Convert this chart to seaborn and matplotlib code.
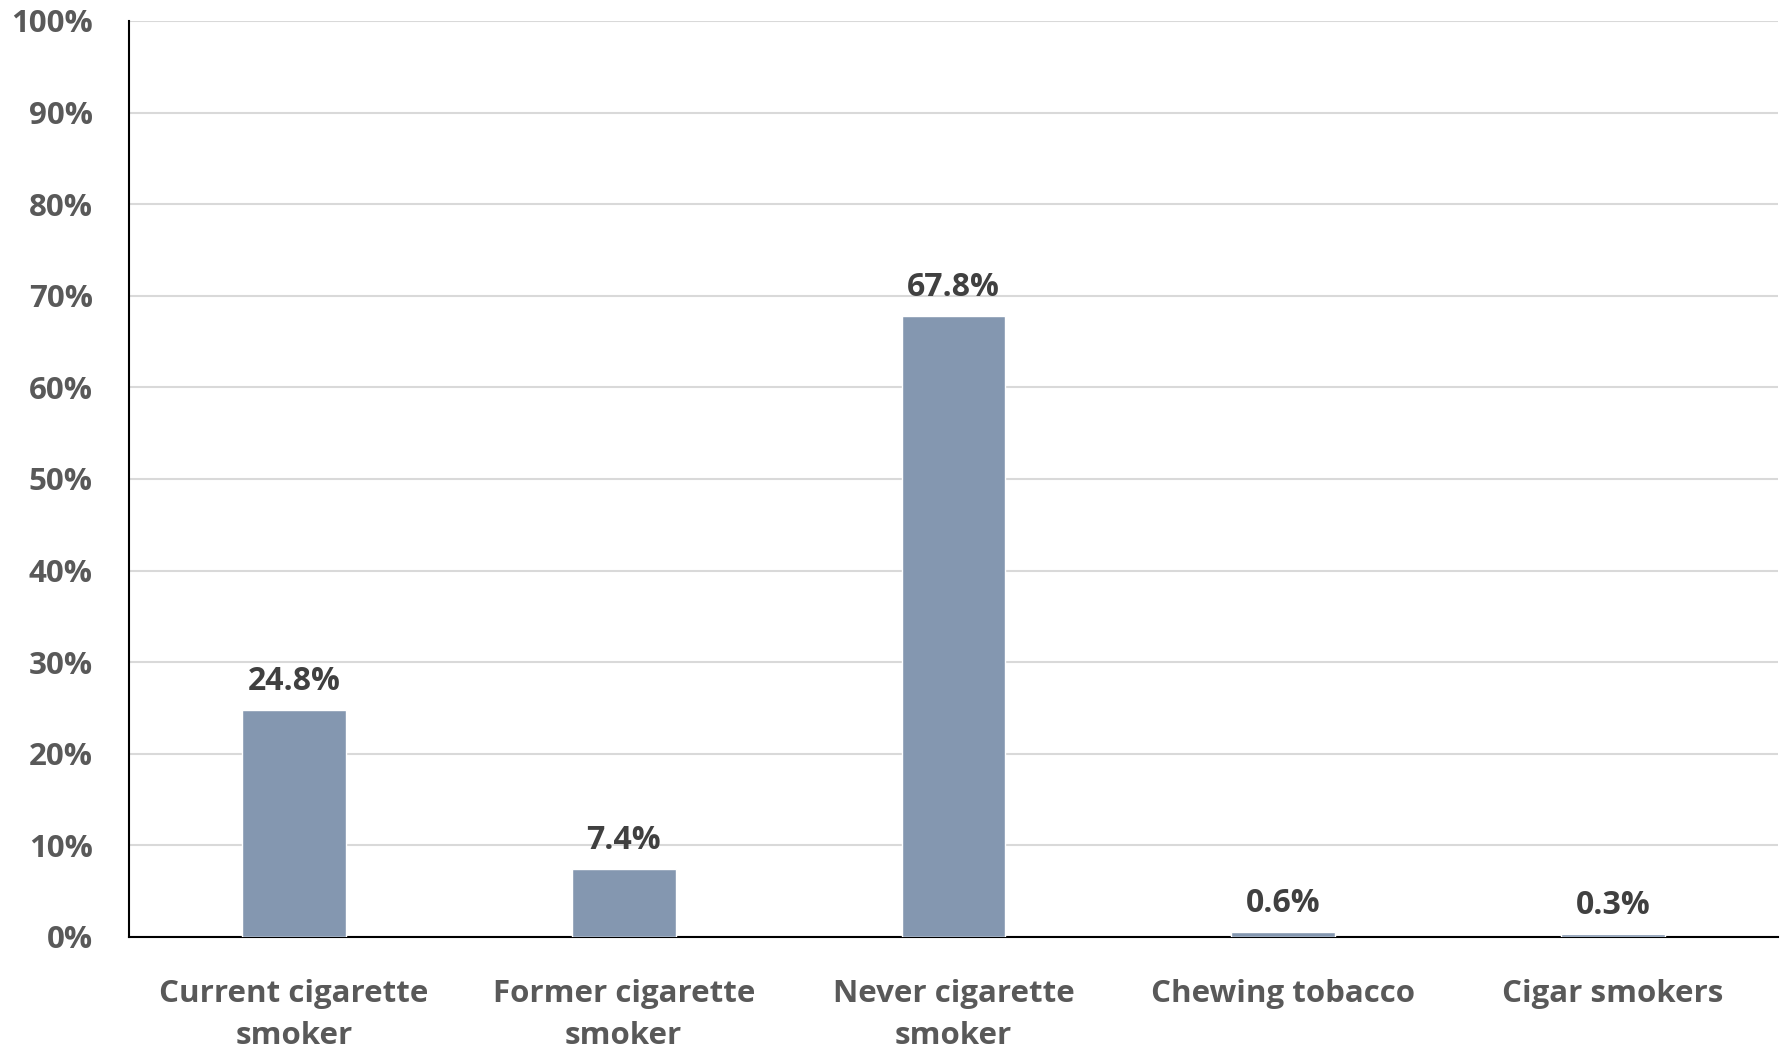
import pandas as pd
import seaborn as sns
import matplotlib.pyplot as plt
from matplotlib.ticker import PercentFormatter

categories = ["Current cigarette\nsmoker", "Former cigarette\nsmoker", "Never cigarette\nsmoker",
              "Chewing tobacco", "Cigar smokers"]
values = [24.8, 7.4, 67.8, 0.6, 0.3]
labels = ["24.8%", "7.4%", "67.8%", "0.6%", "0.3%"]

df = pd.DataFrame({"category": categories, "value": values})

sns.set_style("white")
plt.rcParams['font.family'] = ['Open Sans', 'DejaVu Sans']
plt.rcParams['font.weight'] = 'bold'

fig = plt.figure(figsize=(17.87, 10.47), dpi=100)
ax = fig.add_axes([129 / 1787, 1 - 937 / 1047, (1778 - 129) / 1787, (937 - 21) / 1047])

sns.barplot(data=df, x="category", y="value", color="#8497b0", saturation=1, width=0.315, ax=ax, zorder=3)

for i, (v, lab) in enumerate(zip(values, labels)):
    ax.text(i, v + 1.3, lab, ha="center", va="bottom", fontsize=23, fontweight="bold", color="#404040")

ax.set_ylim(0, 100)
ax.set_yticks(range(0, 101, 10))
ax.yaxis.set_major_formatter(PercentFormatter(decimals=0))
ax.grid(axis="y", color="#d9d9d9", linewidth=1.5, zorder=0)
ax.set_axisbelow(True)
ax.set_xlabel("")
ax.set_ylabel("")
for s in ["top", "right"]:
    ax.spines[s].set_visible(False)
ax.spines["left"].set_color("black")
ax.spines["bottom"].set_color("black")
ax.spines["left"].set_linewidth(1.5)
ax.spines["bottom"].set_linewidth(1.5)
ax.tick_params(axis="both", length=0, labelsize=22.5, labelcolor="#595959")
ax.tick_params(axis="y", pad=26)
ax.tick_params(axis="x", pad=30)
for t in ax.get_xticklabels() + ax.get_yticklabels():
    t.set_fontweight("bold")
for t in ax.get_xticklabels():
    t.set_linespacing(1.55)

fig.savefig("out.png", dpi=100)
